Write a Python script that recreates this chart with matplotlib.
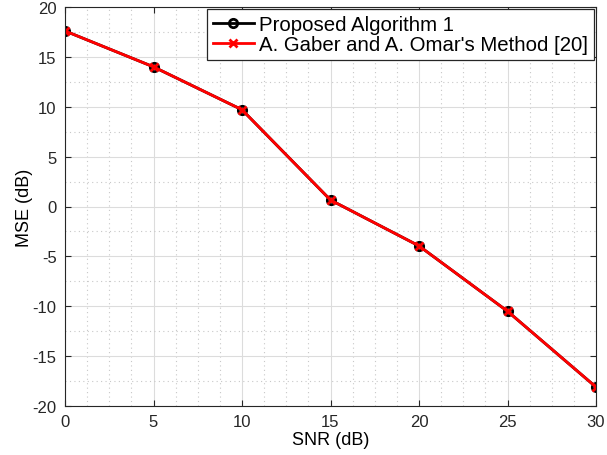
import matplotlib
matplotlib.use("Agg")
import matplotlib.pyplot as plt
from matplotlib.ticker import MultipleLocator

plt.rcParams['font.family'] = ['Liberation Sans', 'DejaVu Sans']
plt.rcParams['axes.unicode_minus'] = False

snr = [0, 5, 10, 15, 20, 25, 30]
mse_proposed = [17.6, 14.0, 9.7, 0.65, -3.95, -10.5, -18.1]
mse_gaber = [17.6, 14.0, 9.7, 0.65, -3.95, -10.5, -18.1]
xticks = [0, 5, 10, 15, 20, 25, 30]
yticks = [-20, -15, -10, -5, 0, 5, 10, 15, 20]

fig = plt.figure(figsize=(6.07, 4.56), dpi=100)
ax = fig.add_axes([65/607, 1-407/456, (596-65)/607, (407-8)/456])

ax.plot(snr, mse_proposed, color='black', lw=2, marker='o', ms=6,
        mfc='none', mec='black', mew=2, label='Proposed Algorithm 1')
ax.plot(snr, mse_gaber, color='#ff0000', lw=2, marker='x', ms=6,
        mew=2, label="A. Gaber and A. Omar's Method [20]")

ax.set_xlim(0, 30)
ax.set_ylim(-20, 20)
ax.set_xticks(xticks)
ax.set_yticks(yticks)
ax.xaxis.set_minor_locator(MultipleLocator(1.25))
ax.yaxis.set_minor_locator(MultipleLocator(2.5))
ax.grid(True, which='major', color='#dcdcdc', lw=0.8, ls='-')
ax.grid(True, which='minor', color='#c8c8c8', lw=0.8, ls=(0, (1, 3)))
ax.set_axisbelow(True)
ax.tick_params(which='major', direction='in', length=4, labelsize=12,
               top=True, right=True, colors='#262626')
ax.tick_params(axis='x', which='major', pad=6)
ax.tick_params(axis='y', which='major', pad=6)
ax.tick_params(which='minor', length=0)
for s in ax.spines.values():
    s.set_color('#262626')
    s.set_linewidth(0.8)

ax.set_xlabel('SNR (dB)', fontsize=13, labelpad=1)
ax.set_ylabel('MSE (dB)', fontsize=13, labelpad=0)

leg = ax.legend(loc='upper right', fontsize=14.7, frameon=True, fancybox=False,
                edgecolor='#262626', framealpha=1, borderpad=0.3,
                handlelength=2.0, handletextpad=0.25, labelspacing=0.05,
                borderaxespad=0.1)
leg.get_frame().set_linewidth(0.9)

fig.savefig('out.png', dpi=100)
